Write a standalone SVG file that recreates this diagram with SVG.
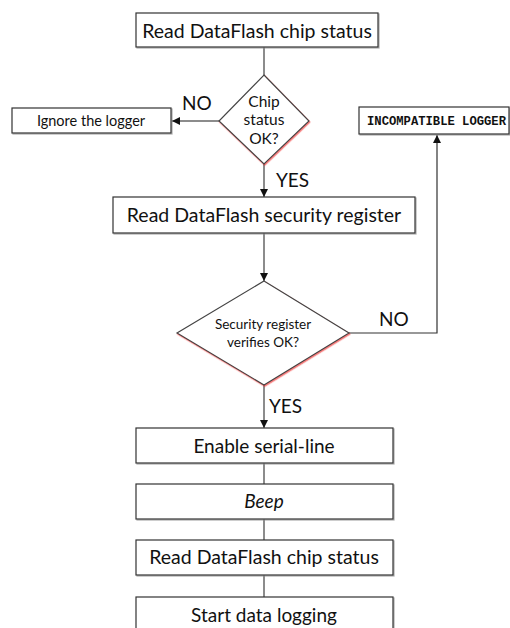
<svg xmlns="http://www.w3.org/2000/svg" width="510" height="628" viewBox="0 0 510 628">
<defs>
<style>
.box{fill:#fff;stroke:#333;stroke-width:1.2;filter:url(#sh)}
.dia{fill:#fff;stroke:#444;stroke-width:1.2;filter:url(#rsh)}
.t{font-family:Lato,"Open Sans",sans-serif;fill:#111;text-anchor:middle}
.lbl{font-family:Lato,"Open Sans",sans-serif;fill:#111;font-size:19px}
.mono{font-family:"Liberation Mono",monospace;font-weight:bold;font-size:12.2px;fill:#111}
.c{fill:none;stroke:#666;stroke-width:1.5}
.cb{fill:none;stroke:#333;stroke-width:1.2}
</style>
<filter id="sh" x="-5%" y="-20%" width="110%" height="150%">
<feDropShadow dx="1" dy="1" stdDeviation="0.6" flood-color="#888" flood-opacity="0.7"/>
</filter>
<filter id="rsh" x="-10%" y="-10%" width="120%" height="125%">
<feDropShadow dx="0.8" dy="1.2" stdDeviation="0.7" flood-color="#e22" flood-opacity="0.6"/>
</filter>
<marker id="ah" viewBox="0 0 10 10" refX="10" refY="5" markerWidth="8" markerHeight="8" markerUnits="userSpaceOnUse" orient="auto">
<path d="M0,0 L10,5 L0,10 z" fill="#111"/>
</marker>
</defs>
<rect width="510" height="628" fill="#fff"/>
<g id="connectors">
<line class="c" x1="264" y1="47" x2="264" y2="75"/>
<line class="c" x1="219" y1="121" x2="172" y2="121" marker-end="url(#ah)"/>
<line class="c" x1="264" y1="164" x2="264" y2="197" marker-end="url(#ah)"/>
<line class="c" x1="264" y1="233" x2="264" y2="281" marker-end="url(#ah)"/>
<polyline class="cb" points="349,333 437,333 437,135" marker-end="url(#ah)"/>
<line class="c" x1="264" y1="385" x2="264" y2="428" marker-end="url(#ah)"/>
<line class="c" x1="264" y1="463" x2="264" y2="484"/>
<line class="c" x1="264" y1="519" x2="264" y2="540"/>
<line class="c" x1="264" y1="575" x2="264" y2="597"/>
<text class="lbl" x="182" y="110">NO</text>
<text class="lbl" x="276" y="187">YES</text>
<text class="lbl" x="379" y="326">NO</text>
<text class="lbl" x="269" y="413">YES</text>
</g>
<g id="read-status">
<rect class="box" x="136" y="13" width="242" height="34"/>
<text class="t" x="257" y="38" font-size="19.5">Read DataFlash chip status</text>
</g>
<g id="chip-ok">
<polygon class="dia" points="264,75 309,121 264,164 219,121"/>
<text class="t" x="264" y="107" font-size="15.5">Chip</text>
<text class="t" x="264" y="125" font-size="15.5">status</text>
<text class="t" x="264" y="144" font-size="15.5">OK?</text>
</g>
<g id="ignore">
<rect class="box" x="12" y="108" width="159" height="25"/>
<text class="t" x="91" y="126" font-size="14.5">Ignore the logger</text>
</g>
<g id="incompatible">
<rect class="box" x="359" y="107" width="150" height="27"/>
<text class="mono" x="367" y="125">INCOMPATIBLE LOGGER</text>
</g>
<g id="read-security">
<rect class="box" x="113" y="197" width="302" height="36"/>
<text class="t" x="264" y="222" font-size="19.5">Read DataFlash security register</text>
</g>
<g id="security-ok">
<polygon class="dia" points="264,281 349,333 264,385 177,333"/>
<text class="t" x="263" y="329" font-size="13.5">Security register</text>
<text class="t" x="263" y="347" font-size="13.5">verifies OK?</text>
</g>
<g id="enable-serial">
<rect class="box" x="136" y="428" width="257" height="35"/>
<text class="t" x="264" y="453" font-size="19">Enable serial-line</text>
</g>
<g id="beep">
<rect class="box" x="136" y="484" width="257" height="35"/>
<text class="t" x="264" y="508" font-size="19" font-style="italic">Beep</text>
</g>
<g id="read-status-2">
<rect class="box" x="136" y="540" width="257" height="35"/>
<text class="t" x="264" y="564" font-size="19.5">Read DataFlash chip status</text>
</g>
<g id="start-logging">
<rect class="box" x="136" y="597" width="257" height="40"/>
<text class="t" x="264" y="622" font-size="19">Start data logging</text>
</g>
</svg>
